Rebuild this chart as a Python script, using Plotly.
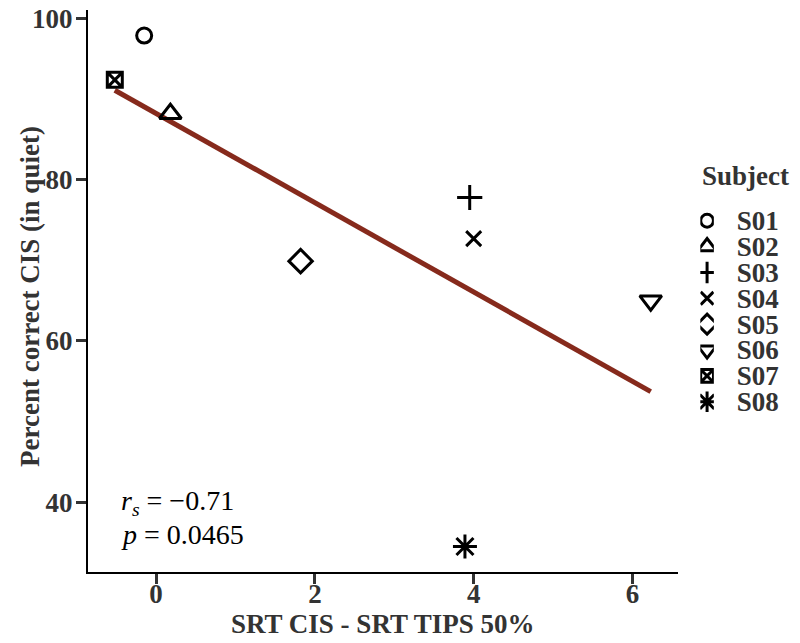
import numpy as np
import plotly.graph_objects as go

subjects = ["S01", "S02", "S03", "S04", "S05", "S06", "S07", "S08"]
srt_diff = [-0.15, 0.18, 3.95, 4.00, 1.82, 6.23, -0.52, 3.89]
pct_correct = [97.9, 88.2, 77.8, 72.7, 69.9, 65.0, 92.4, 34.5]
symbols = ["circle-open", "triangle-up-open", "cross-thin-open", "x-thin-open",
           "diamond-open", "triangle-down-open", "square-x-open", "asterisk-open"]
sizes = [15, 19, 18, 15, 18, 19, 15, 20]

x_ticks = [0, 2, 4, 6]
y_ticks = [40, 60, 80, 100]
r_s = -0.71
p_val = 0.0465

FONT = "Liberation Serif"
TXT = "#333333"
LINE_COL = "#862a1c"
FS = 27

x = np.array(srt_diff)
y = np.array(pct_correct)

# ggplot style 5% expansion
def expand(v, f=0.05):
    span = v.max() - v.min()
    return [v.min() - f * span, v.max() + f * span]

slope, icpt = np.polyfit(x, y, 1)
fit_x = np.array([x.min(), x.max()])
fit_y = icpt + slope * fit_x

fig = go.Figure()

fig.add_scatter(x=fit_x, y=fit_y, mode="lines",
                line=dict(color=LINE_COL, width=5), showlegend=False)

for s, xv, yv, sym, sz in zip(subjects, srt_diff, pct_correct, symbols, sizes):
    fig.add_scatter(x=[xv], y=[yv], mode="markers", name=s,
                    marker=dict(symbol=sym, size=sz, color="black",
                                line=dict(width=3, color="black")),
                    showlegend=False)
    # legend key, drawn on its own small axes
    fig.add_scatter(x=[0], y=[s], mode="markers", xaxis="x2", yaxis="y2",
                    marker=dict(symbol=sym, size=sz * 0.85, color="black",
                                line=dict(width=3, color="black")),
                    showlegend=False, hoverinfo="skip")

bold = dict(family=FONT, size=FS, color=TXT, weight="bold")
axis_common = dict(
    showline=True, linecolor="black", linewidth=2,
    ticks="outside", ticklen=10, tickwidth=3, tickcolor=TXT,
    showgrid=False, zeroline=False, automargin=False,
    ticklabeloverflow="allow", tickfont=bold,
)

# the page body has an 8px margin, so the figure is 8px smaller than the window
fig.update_layout(
    width=792, height=635,
    plot_bgcolor="white", paper_bgcolor="white",
    margin=dict(l=80, r=0, t=2, b=71),
    font=dict(family=FONT, color=TXT),
    xaxis=dict(axis_common, domain=[0, 0.828], range=expand(x), tickvals=x_ticks,
               ticklabelstandoff=-13,
               title=dict(text="SRT CIS - SRT TIPS 50%", standoff=0, font=bold)),
    yaxis=dict(axis_common, range=expand(y), tickvals=y_ticks, ticklabelstandoff=-2),
    xaxis2=dict(domain=[0.86, 0.879], range=[-1, 1], anchor="y2",
                visible=False),
    yaxis2=dict(domain=[0.280, 0.648], anchor="x2", side="right",
                type="category", categoryorder="array", categoryarray=subjects,
                tickmode="array", tickvals=subjects, ticktext=subjects,
                range=[7.5, -0.5], showline=False, showgrid=False, zeroline=False,
                ticks="", ticklabelstandoff=22, automargin=False,
                tickfont=bold),
    annotations=[
        dict(text="Percent correct CIS (in quiet)", textangle=-90,
             xref="paper", yref="paper", x=-0.0815, y=0.491,
             xanchor="center", yanchor="middle", showarrow=False, font=bold),
        dict(text="Subject", xref="paper", yref="paper", x=0.8596, y=0.7046,
             xanchor="left", yanchor="middle", showarrow=False, font=bold),
        dict(text=f"<i>r</i><sub><i>s</i></sub> = \u2212{abs(r_s):.2f}",
             xref="paper", yref="paper", x=0.044, y=0.1228,
             xanchor="left", yanchor="middle", showarrow=False,
             font=dict(family=FONT, size=28, color="black")),
        dict(text=f"<i>p</i> = {p_val}",
             xref="paper", yref="paper", x=0.044, y=0.0676,
             xanchor="left", yanchor="middle", showarrow=False,
             font=dict(family=FONT, size=28, color="black")),
    ],
)

fig.write_html("out.html")
